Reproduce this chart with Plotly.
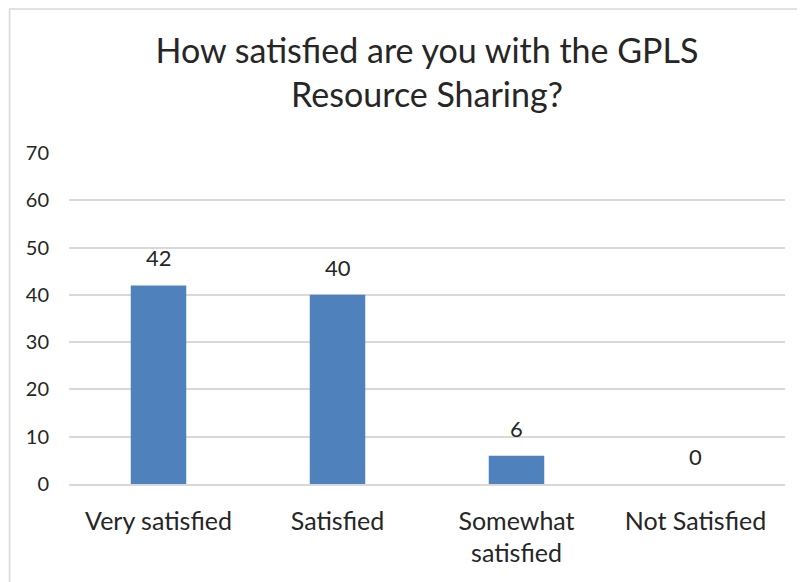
import plotly.graph_objects as go

categories = ['Very satisfied', 'Satisfied', 'Somewhat<br>satisfied', 'Not Satisfied']
responses = [42, 40, 6, 0]

title_text = 'How satisfied are you with the GPLS<br>Resource Sharing?'
font_name = 'Lato, Calibri, sans-serif'
bar_color = '#4F81BD'
text_color = '#262626'
grid_color = '#d9d9d9'

fig = go.Figure()
fig.add_trace(go.Bar(
    x=categories,
    y=responses,
    marker=dict(color=bar_color, line=dict(width=0)),
    hoverinfo='x+y',
))

# value labels above the bars
for cat, val in zip(categories, responses):
    fig.add_annotation(x=cat, y=val, text=str(val), showarrow=False,
                       yanchor='bottom', yshift=12,
                       font=dict(family=font_name, size=22, color=text_color))

fig.update_layout(
    width=797,
    height=574,
    paper_bgcolor='white',
    plot_bgcolor='white',
    showlegend=False,
    bargap=0.69,
    margin=dict(l=61, r=20, t=145, b=98),
    title=dict(
        text=title_text,
        x=0.5,
        xref='paper',
        y=0.904,
        yanchor='top',
        font=dict(family=font_name, size=34, color=text_color),
    ),
    font=dict(family=font_name, color=text_color),
)

fig.update_yaxes(
    range=[0, 70],
    dtick=10,
    showgrid=True,
    gridcolor=grid_color,
    gridwidth=1.5,
    zeroline=False,
    showline=False,
    ticks='',
    tickfont=dict(family=font_name, size=20, color=text_color),
    ticklabelstandoff=19,
)
fig.update_xaxes(
    showline=True,
    linecolor=grid_color,
    linewidth=1.5,
    ticks='',
    tickfont=dict(family=font_name, size=25, color=text_color),
    ticklabelstandoff=14,
)

# chart frame
fig.add_shape(type='rect', xref='paper', yref='paper',
              x0=-0.083, x1=1.1, y0=-0.35, y1=1.435,
              line=dict(color='#d9d9d9', width=1.5), layer='below')

fig.write_html('out.html')
